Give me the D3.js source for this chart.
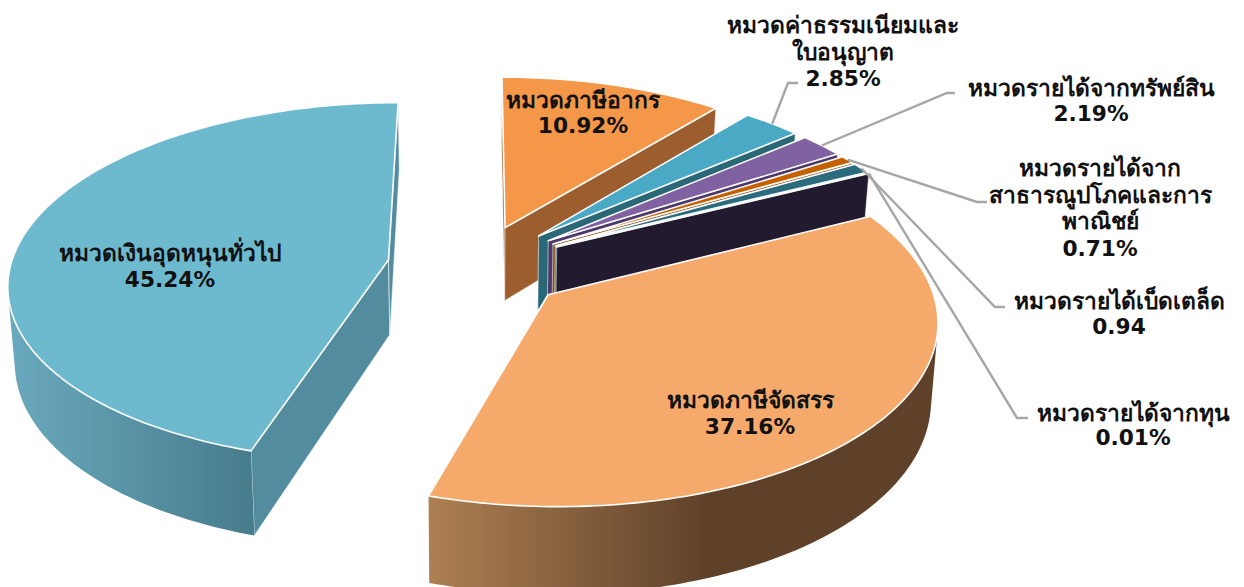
<!DOCTYPE html>
<html><head><meta charset="utf-8">
<script src="https://cdnjs.cloudflare.com/ajax/libs/d3/7.8.5/d3.min.js"></script>
<style>html,body{margin:0;padding:0;background:#fff;overflow:hidden}svg{display:block}
text{font-family:"DejaVu Sans","Noto Sans",sans-serif;font-weight:700;fill:#111;text-anchor:middle}</style>
</head><body><svg id="c" width="1244" height="587"></svg>
<script>
// --- data ---
const categories=["หมวดเงินอุดหนุนทั่วไป","หมวดภาษีอากร","หมวดค่าธรรมเนียมและใบอนุญาต","หมวดรายได้จากทรัพย์สิน","หมวดรายได้จากสาธารณูปโภคและการพาณิชย์","หมวดรายได้เบ็ดเตล็ด","หมวดรายได้จากทุน","หมวดภาษีจัดสรร"];
const values=[45.24,10.92,2.85,2.19,0.71,0.94,0.01,37.16];
const valueLabels=["45.24%","10.92%","2.85%","2.19%","0.71%","0.94","0.01%","37.16%"];
// --- styles and layout ---
const topColors=["#6dbacf","#f49748","#4aa9c4","#8061a1","#c46000","#2a6b7e","#f5e6d0","#f5a96b"];
const wallColors=["#528c9e","#9c5e2e","#2a6878","#4b3a6b","#8a4a12","#2a6b7e","#221a2e","#5f4029"];
const gradientEnds=[["#6aa9be","#477c8c"],null,null,null,null,null,null,["#ad8052","#5f4029"]];
const explosion=[.235,.235,.242,.242,.242,.242,.242,.245];
const labelLines=[["หมวดเงินอุดหนุนทั่วไป"],["หมวดภาษีอากร"],["หมวดค่าธรรมเนียมและ","ใบอนุญาต"],["หมวดรายได้จากทรัพย์สิน"],["หมวดรายได้จาก","สาธารณูปโภคและการ","พาณิชย์"],["หมวดรายได้เบ็ดเตล็ด"],["หมวดรายได้จากทุน"],["หมวดภาษีจัดสรร"]];
const labelAt=[[170,261,25.5],[583,108,25],[843,33,26.5],[1091,96,25],[1100,176,26.7],[1119,309,25],[1133,421,24],[750,408,25.5]];
const leaderElbow=[null,null,[[788,83],[798,83]],[[947,93],[955,93]],[[977,202],[987,202]],[[995,307],[1005,307]],[[1017,418],[1028,418]],null];

const FS_NAME=22.8,FS_VALUE=21.7;
const cx=476,cy=266,fx=378,fy=178,k=.1236,depth=75,shrink=.985;
const sx=d3.scaleLinear().domain([0,1]).range([0,fx]);
const sy=d3.scaleLinear().domain([0,1]).range([0,fy]);
// u to the right, v towards the viewer, z 1 = top face, 0 = bottom face
function project(u,v,z){const w=1/(1-k*v);
  const s=z?1:shrink;
  return [cx+sx(u)*w*s, cy+sy(v)*w+(z?0:depth*w)];}
const svg=d3.select("#c");
const defs=svg.append("defs");
const line=d3.line();
const start=-values[0]/d3.sum(values)*2*Math.PI;
const arcs=d3.pie().sort(null).startAngle(start).endAngle(start+2*Math.PI)(values);
const area=p=>d3.polygonArea(p);
const slices=arcs.map((a,i)=>{
  const mid=(a.startAngle+a.endAngle)/2,e=explosion[i];
  const ou=e*Math.sin(mid),ov=-e*Math.cos(mid);
  const pt=(t,z)=>project(ou+Math.sin(t),ov-Math.cos(t),z);
  const apex=z=>project(ou,ov,z);
  return {i,a,mid,ou,ov,pt,apex};
}).sort((p,q)=>p.ov-q.ov);
slices.forEach(s=>{
  const i=s.i,{startAngle:a0,endAngle:a1}=s.a,g=svg.append("g");
  let fill=wallColors[i];
  if(gradientEnds[i]){
    const id="g"+i,lg=defs.append("linearGradient").attr("id",id);
    lg.append("stop").attr("offset","0").attr("stop-color",gradientEnds[i][0]);
    lg.append("stop").attr("offset",i===7?".55":"1").attr("stop-color",gradientEnds[i][1]);
    fill=`url(#${id})`;
  }
  // radial walls, each only if it faces the camera
  [[a0,1],[a1,-1]].forEach(([t,o])=>{
    const q=o>0?[s.apex(1),s.pt(t,1),s.pt(t,0),s.apex(0)]:[s.pt(t,1),s.apex(1),s.apex(0),s.pt(t,0)];
    if(area(q)>0) g.append("path").attr("d",line(q)+"Z").attr("fill",wallColors[i]).attr("stroke","#fff").attr("stroke-opacity",.55).attr("stroke-width",1);
  });
  // outer wall: runs of camera-facing strips
  const n=Math.max(2,Math.ceil((a1-a0)/(Math.PI/180)));
  const ts=d3.range(n+1).map(j=>a0+(a1-a0)*j/n);
  let run=[];const flush=()=>{ if(run.length>1){
      const p=run.map(t=>s.pt(t,1)).concat(run.slice().reverse().map(t=>s.pt(t,0)));
      g.append("path").attr("d",line(p)+"Z").attr("fill",fill);
    } run=[]; };
  for(let j=0;j<n;j++){
    const q=[s.pt(ts[j],1),s.pt(ts[j+1],1),s.pt(ts[j+1],0),s.pt(ts[j],0)];
    if(area(q)>0){ if(!run.length) run.push(ts[j]); run.push(ts[j+1]); } else flush();
  }
  flush();
  // top face
  const top=[s.apex(1)].concat(ts.map(t=>s.pt(t,1)));
  g.append("path").attr("d",line(top)+"Z").attr("fill",topColors[i]).attr("stroke","#fff").attr("stroke-width",1.6).attr("stroke-linejoin","round");
});
// leaders
const arcsById=d3.index(slices,d=>d.i);
leaderElbow.forEach((el,i)=>{ if(!el)return;
  const s=arcsById.get(i),p0=s.pt(s.mid,1);
  svg.append("path").attr("d",line([p0,...el])).attr("fill","none").attr("stroke","#a6a6a6").attr("stroke-width",2.4);
});
// labels
labelLines.forEach((ls,i)=>{
  const [x,y,dy]=labelAt[i];
  const t=svg.append("text");
  ls.forEach((txt,j)=>t.append("tspan").attr("x",x).attr("y",y+j*dy).attr("font-size",FS_NAME).text(txt));
  t.append("tspan").attr("x",x).attr("y",y+ls.length*dy).attr("font-size",FS_VALUE).text(valueLabels[i]);
});
</script></body></html>
